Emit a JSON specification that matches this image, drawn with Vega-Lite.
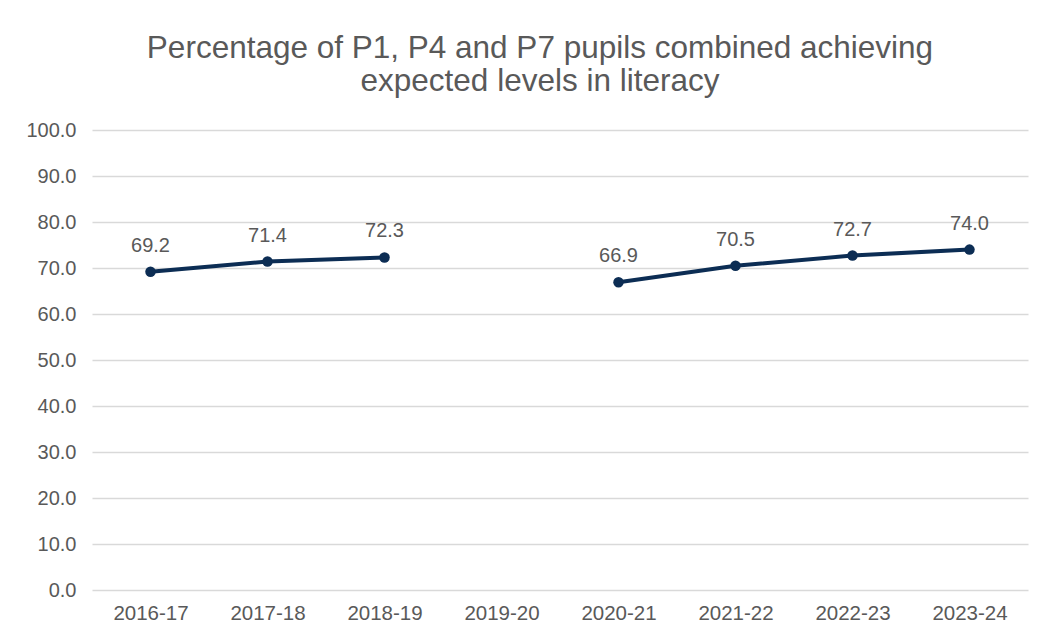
{
  "$schema": "https://vega.github.io/schema/vega-lite/v6.json",
  "autosize": "none",
  "width": 936,
  "height": 460,
  "padding": {"left": 92, "top": 130, "right": 11, "bottom": 42},
  "background": "white",
  "title": {
    "text": ["Percentage of P1, P4 and P7 pupils combined achieving", "expected levels in literacy"],
    "font": "Liberation Sans",
    "fontSize": 31.5,
    "fontWeight": "normal",
    "color": "#595959",
    "lineHeight": 33,
    "anchor": "middle",
    "dx": -20,
    "offset": 23
  },
  "data": {
    "values": [
      {"year": "2016-17", "value": 69.2},
      {"year": "2017-18", "value": 71.4},
      {"year": "2018-19", "value": 72.3},
      {"year": "2019-20", "value": null},
      {"year": "2020-21", "value": 66.9},
      {"year": "2021-22", "value": 70.5},
      {"year": "2022-23", "value": 72.7},
      {"year": "2023-24", "value": 74.0}
    ]
  },
  "encoding": {
    "x": {
      "field": "year",
      "type": "ordinal",
      "sort": null,
      "scale": {"type": "point", "padding": 0.5, "domain": ["2016-17", "2017-18", "2018-19", "2019-20", "2020-21", "2021-22", "2022-23", "2023-24"]},
      "axis": {
        "title": null,
        "labelAngle": 0,
        "domain": false,
        "ticks": false,
        "grid": false,
        "labelFont": "Liberation Sans",
        "labelFontSize": 20.5,
        "labelColor": "#595959",
        "labelPadding": 13
      }
    },
    "y": {
      "field": "value",
      "type": "quantitative",
      "scale": {"domain": [0, 100], "nice": false, "zero": true},
      "axis": {
        "title": null,
        "values": [0, 10, 20, 30, 40, 50, 60, 70, 80, 90, 100],
        "format": ".1f",
        "domain": false,
        "ticks": false,
        "grid": true,
        "gridColor": "#d9d9d9",
        "gridWidth": 1.5,
        "labelFont": "Liberation Sans",
        "labelFontSize": 20,
        "labelColor": "#595959",
        "labelPadding": 16
      }
    }
  },
  "layer": [
    {
      "mark": {
        "type": "line",
        "color": "#0c2d54",
        "strokeWidth": 4,
        "invalid": "break-paths-show-domains",
        "point": {"filled": true, "size": 110, "color": "#0c2d54"}
      }
    },
    {
      "transform": [{"filter": "datum.value != null"}],
      "mark": {
        "type": "text",
        "font": "Liberation Sans",
        "fontSize": 20,
        "color": "#595959",
        "baseline": "alphabetic",
        "dy": -20
      },
      "encoding": {
        "text": {"field": "value", "type": "quantitative", "format": ".1f"}
      }
    }
  ],
  "config": {
    "view": {"stroke": null}
  }
}
